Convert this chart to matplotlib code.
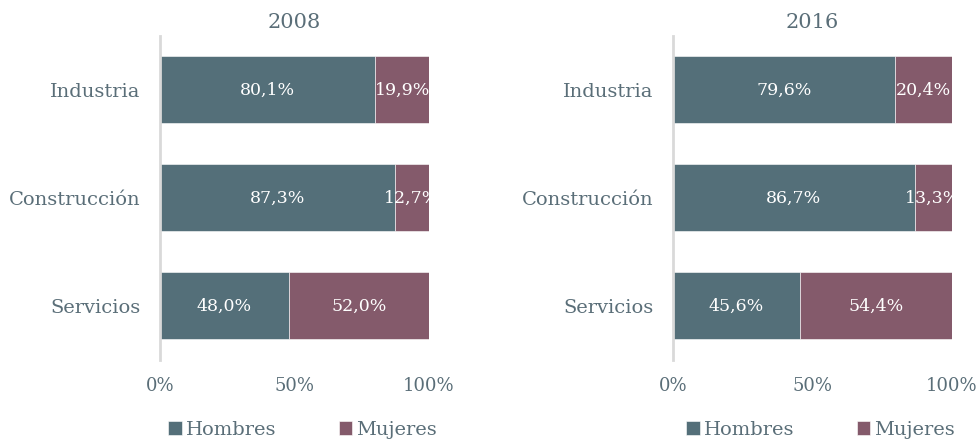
import matplotlib
matplotlib.use("Agg")
import matplotlib.pyplot as plt

sectores = ["Industria", "Construcción", "Servicios"]
anios = ["2008", "2016"]
hombres = {"2008": [80.1, 87.3, 48.0], "2016": [79.6, 86.7, 45.6]}
mujeres = {"2008": [19.9, 12.7, 52.0], "2016": [20.4, 13.3, 54.4]}
xticks = [0, 50, 100]

C_H, C_M = "#546f79", "#845a6b"
TXT = "#5a6e78"
plt.rcParams["font.family"] = ["DejaVu Serif"]


def fmt(v):
    return f"{v:.1f}%".replace(".", ",")


fig = plt.figure(figsize=(9.78, 4.41), dpi=100)
boxes = [(0.1636, 0.1837, 0.275, 0.735), (0.688, 0.1837, 0.285, 0.735)]

for anio, box in zip(anios, boxes):
    ax = fig.add_axes(box)
    h, m = hombres[anio], mujeres[anio]
    y = range(len(sectores))
    ax.barh(y, h, height=0.62, color=C_H, edgecolor="white", lw=0.4, label="Hombres")
    ax.barh(y, m, left=h, height=0.62, color=C_M, edgecolor="white", lw=0.4, label="Mujeres")
    for i in y:
        ax.text(h[i] / 2, i, fmt(h[i]), ha="center", va="center", color="white", fontsize=12.5)
        ax.text(h[i] + m[i] / 2, i, fmt(m[i]), ha="center", va="center", color="white", fontsize=12.5)
    ax.set_xlim(0, 100)
    ax.set_ylim(2.5, -0.5)
    ax.set_yticks(list(y))
    ax.set_yticklabels(sectores, fontsize=14, color=TXT)
    ax.set_xticks(xticks)
    ax.set_xticklabels([f"{t}%" for t in xticks], fontsize=13, color=TXT)
    ax.tick_params(length=0, axis="y", pad=14)
    ax.tick_params(length=0, axis="x", pad=12)
    for s in ["top", "right", "bottom"]:
        ax.spines[s].set_visible(False)
    ax.spines["left"].set_color("#d9d9d9")
    ax.spines["left"].set_linewidth(2)
    ax.set_title(anio, fontsize=15, color=TXT, pad=6)
    ax.legend(loc="center", bbox_to_anchor=(0.53, -0.215), ncol=2, frameon=False,
              fontsize=14, labelcolor=TXT, handlelength=0.7, handleheight=0.7,
              handletextpad=0.2, columnspacing=3.2, borderpad=0)

fig.savefig("out.png", dpi=100)
